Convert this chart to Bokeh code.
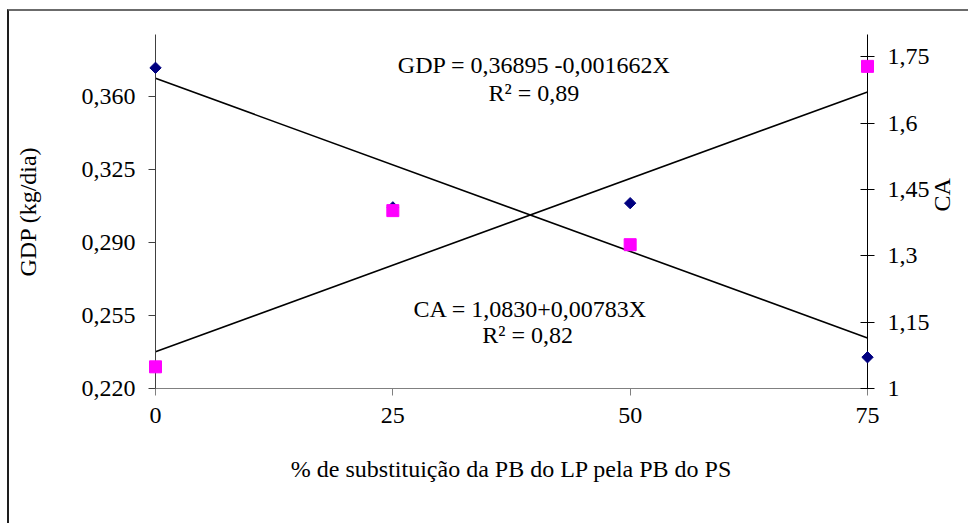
import math
from bokeh.plotting import figure
from bokeh.models import Range1d, LinearAxis, FixedTicker, Label
from bokeh.embed import file_html
from bokeh.resources import INLINE

# ---- data ----
x_pct = [0, 25, 50, 75]
gdp_vals = [0.374, 0.307, 0.309, 0.235]
ca_vals = [1.049, 1.402, 1.325, 1.728]
gdp_intercept, gdp_slope = 0.36895, -0.001662
ca_intercept, ca_slope = 1.0830, 0.00783

x_ticks = [0, 25, 50, 75]
x_tick_labels = ["0", "25", "50", "75"]
gdp_ticks = [0.220, 0.255, 0.290, 0.325, 0.360]
gdp_tick_labels = ["0,220", "0,255", "0,290", "0,325", "0,360"]
ca_ticks = [1.0, 1.15, 1.3, 1.45, 1.6, 1.75]
ca_tick_labels = ["1", "1,15", "1,3", "1,45", "1,6", "1,75"]

gdp_eq = "GDP = 0,36895 -0,001662X"
gdp_r2 = "R² = 0,89"
ca_eq = "CA = 1,0830+0,00783X"
ca_r2 = "R² = 0,82"
x_title = "% de substituição da PB do LP pela PB do PS"
y_title = "GDP (kg/dia)"
y2_title = "CA"

FONT = "Liberation Serif"
FS = "24px"

p = figure(width=961, height=514,
           x_range=Range1d(0, 75), y_range=Range1d(0.22, 0.39),
           output_backend="svg", toolbar_location=None,
           min_border_left=146, min_border_right=103,
           min_border_top=23, min_border_bottom=137,
           background_fill_color="white", border_fill_color="white",
           outline_line_color=None)
p.margin = (9, 0, 0, 7)
p.extra_y_ranges = {"ca": Range1d(1.0, 1.8)}
p.grid.visible = False
p.styles = {"border-left": "2px solid #1e1e1e", "border-top": "2px solid #6b6b6b"}

def style_axis(ax, color):
    ax.axis_line_color = color
    ax.axis_line_width = 1
    ax.major_tick_line_color = color
    ax.minor_tick_line_color = None
    ax.major_label_text_font = FONT
    ax.major_label_text_font_size = FS
    ax.major_label_text_color = "black"
    ax.axis_label_text_font = FONT
    ax.axis_label_text_font_size = FS
    ax.axis_label_text_font_style = "normal"
    ax.axis_label_text_color = "black"

# x axis
xa = p.xaxis[0]
style_axis(xa, "#808080")
xa.ticker = FixedTicker(ticks=x_ticks)
xa.major_label_overrides = dict(zip(x_ticks, x_tick_labels))
xa.major_tick_in = 0
xa.major_tick_out = 7
xa.major_label_standoff = 12
xa.axis_label = x_title
xa.axis_label_standoff = 30

# left y axis
ya = p.yaxis[0]
style_axis(ya, "#404040")
ya.ticker = FixedTicker(ticks=gdp_ticks)
ya.major_label_overrides = dict(zip(gdp_ticks, gdp_tick_labels))
ya.major_tick_in = 0
ya.major_tick_out = 7
ya.major_label_standoff = 13
ya.axis_label = y_title
ya.axis_label_standoff = 38

# right y axis
ra = LinearAxis(y_range_name="ca")
style_axis(ra, "black")
ra.ticker = FixedTicker(ticks=ca_ticks)
ra.major_label_overrides = dict(zip(ca_ticks, ca_tick_labels))
ra.major_tick_in = 7
ra.major_tick_out = 7
ra.major_label_standoff = 13
ra.axis_label = y2_title
ra.axis_label_standoff = 9
try:
    ra.axis_label_orientation = math.pi / 2
except Exception:
    pass
p.add_layout(ra, "right")

# trend lines from the regression equations
x_line = [x_pct[0], x_pct[-1]]
gdp_line = [gdp_intercept + gdp_slope * x for x in x_line]
ca_line = [ca_intercept + ca_slope * x for x in x_line]
p.line(x_line, gdp_line, line_color="black", line_width=1.6)
p.line(x_line, ca_line, line_color="black", line_width=1.6, y_range_name="ca")

# markers
p.scatter(x_pct, gdp_vals, marker="square", angle=math.pi / 4, size=8,
          fill_color="#000080", line_color="#000080", level="overlay")
p.scatter(x_pct, ca_vals, marker="square", size=12,
          fill_color="#FF00FF", line_color="#FF00FF", y_range_name="ca",
          level="overlay")

# regression annotations
def add_label(x, y, text, y_range_name="default"):
    p.add_layout(Label(x=x, y=y, text=text, text_font=FONT, text_font_size=FS,
                       text_color="black", text_align="center",
                       text_baseline="alphabetic", y_range_name=y_range_name))

add_label(39.9, 0.3752, gdp_eq)
add_label(39.85, 0.3618, gdp_r2)
add_label(39.5, 0.2582, ca_eq)
add_label(39.2, 0.2456, ca_r2)

open("out.html", "w").write(file_html(p, INLINE))
